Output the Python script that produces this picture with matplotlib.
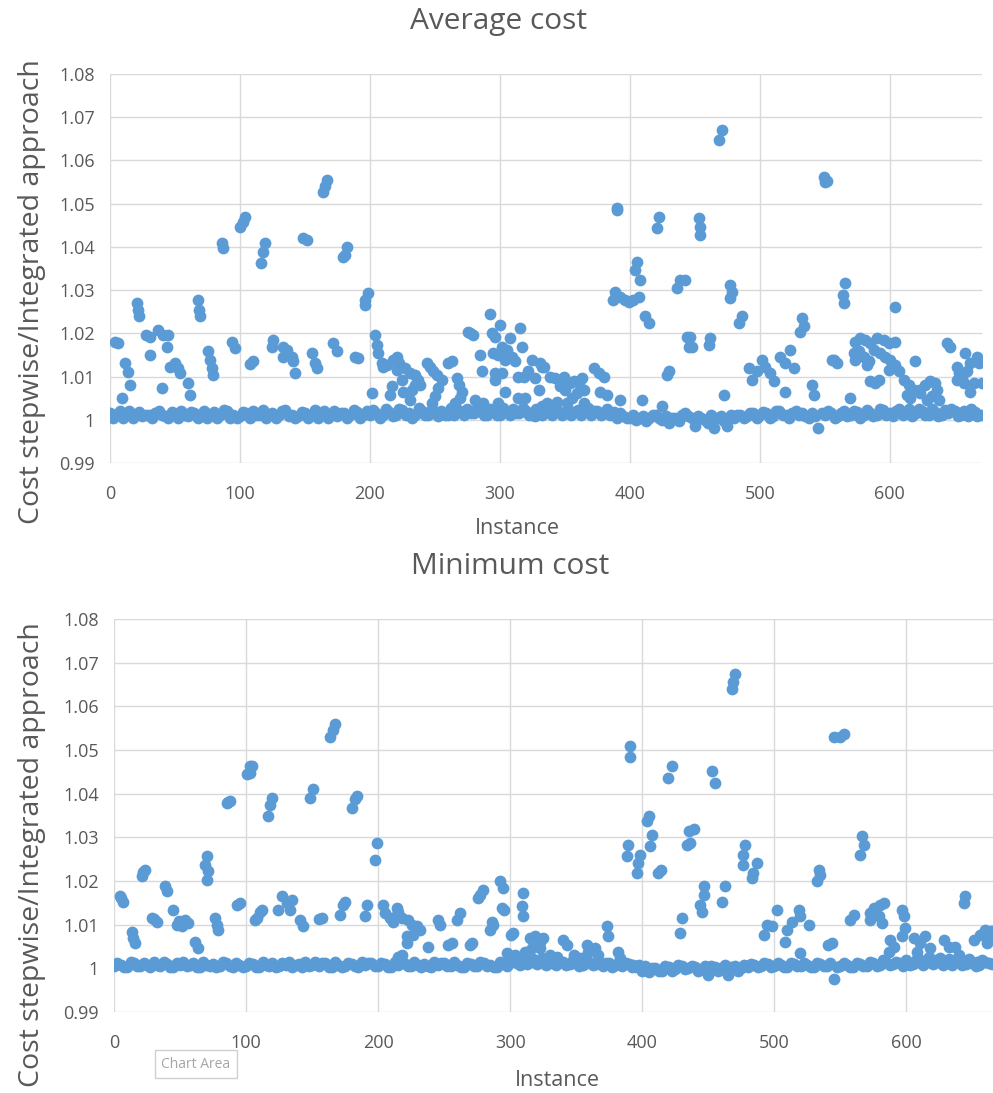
import numpy as np
import matplotlib
matplotlib.use("Agg")
import matplotlib.pyplot as plt

plt.rcParams['font.family'] = ['Open Sans', 'DejaVu Sans']

# instances sitting on the ~1.000 band (one every 5 instances)
avg_base_y = [
    1.0015, 1.001, 1.0005, 1.002, 1.001, 1.0008, 1.0012, 1.0015, 1.001, 1.0005,
    1.0012, 1.002, 1.0008, 1.0015, 1.001, 1.0005, 1.0018, 1.001, 1.002, 1.0012,
    1.0008, 1.0015, 1.002, 1.001, 1.0005, 1.0015, 1.001, 1.0022, 1.0012, 1.0008,
    1.0015, 1.001, 1.0005, 1.002, 1.0012, 1.0008, 1.0015, 1.001, 1.0018, 1.0012,
    1.001, 1.0015, 1.0012, 1.0018, 1.001, 1.0022, 1.0015, 1.0012, 1.002, 1.001,
    1.0015, 1.002, 1.0012, 1.001, 1.0018, 1.0025, 1.0015, 1.002, 1.001, 1.0022,
    1.0012, 1.0018, 1.0025, 1.0015, 1.002, 1.001, 1.0022, 1.0015, 1.0012, 1.002,
    1.0015, 1.001, 1.0022, 1.0018, 1.0012, 1.002, 1.0015, 1.001, 1.0005, 1.0008,
    1.0005, 1.0, 1.0008, 1.0005, 1.001, 1.0, 0.9992, 1.0005, 1.001, 1.0008,
    0.9985, 1.0005, 0.9992, 0.998, 1.0008, 0.9985, 1.0005, 1.001, 1.0008, 1.0015,
    1.001, 1.0015, 1.0008, 1.002, 1.001, 1.0015, 1.001, 1.0008, 1.0015, 0.998,
    1.001, 1.0015, 1.0008, 1.002, 1.001, 1.0018, 1.0012, 1.0015, 1.001, 1.0022,
    1.0015, 1.002, 1.001, 1.0025, 1.0015, 1.002, 1.0012, 1.0018, 1.001, 1.0015,
    1.002, 1.0012, 1.0008, 1.0015, 1.001,
]
avg_base_x = np.arange(len(avg_base_y)) * 5
# second set of band instances, offset between the first ones
avg_base2_y = [
    1.0005, 1.002, 1.001, 1.0003, 1.0018, 1.0012, 1.0003, 1.002, 1.0008, 1.0018,
    1.0003, 1.001, 1.0018, 1.0005, 1.002, 1.0012, 1.0003, 1.0022, 1.0005, 1.0003,
    1.0018, 1.0005, 1.001, 1.0022, 1.0012, 1.0003, 1.002, 1.0008, 1.0003, 1.0018,
    1.0005, 1.0022, 1.0012, 1.0005, 1.002, 1.0015, 1.0003, 1.0022, 1.0005, 1.002,
    1.0022, 1.0005, 1.0025, 1.0008, 1.0025, 1.0012, 1.0005, 1.0028, 1.001, 1.0025,
    1.0008, 1.0012, 1.0028, 1.0022, 1.001, 1.0015, 1.0028, 1.001, 1.0025, 1.0012,
    1.0028, 1.001, 1.0015, 1.0028, 1.001, 1.0025, 1.0012, 1.0028, 1.0022, 1.001,
    1.0025, 1.0018, 1.001, 1.0028, 1.002, 1.001, 1.0025, 1.0018, 1.0015, 1.0003,
    1.001, 1.0005, 0.9998, 1.0012, 1.0003, 1.0008, 1.0003, 0.9998, 1.0015, 1.0003,
    1.0008, 1.0, 1.001, 1.0005, 0.9998, 1.001, 1.0012, 1.0003, 1.0015, 1.0005,
    1.0018, 1.0005, 1.002, 1.0012, 1.0003, 1.002, 1.0015, 1.0003, 1.0008, 1.0015,
    1.002, 1.0005, 1.0015, 1.0008, 1.002, 1.0005, 1.0022, 1.0008, 1.0025, 1.0012,
    1.0008, 1.0025, 1.0015, 1.0008, 1.0025, 1.001, 1.0025, 1.0008, 1.0022, 1.0025,
    1.0008, 1.002, 1.0025, 1.0008,
]
avg_base2_x = np.arange(len(avg_base2_y)) * 5 + 2.5

# instances above the band, average cost
avg_x = [
    4, 6, 11.5, 14, 15.4, 9, 20.5, 21.5, 22.6, 28, 30.8, 30.8, 37, 41, 45, 43.6, 39.8,
    46, 50, 52.6, 54, 60.3, 61.6, 68, 68.7, 69.3, 75.7, 77, 78.2, 79.5, 86, 87.2, 93.7, 96.2,
    100, 102, 104, 107.8, 110.3, 116.2, 117.5, 119.3, 124.4, 125.7, 133.4, 136, 133.4, 139.9,
    141.1, 142.4, 148.8, 151.4, 155.3, 157.8, 159.1, 164.2, 165.5, 166.8, 171.9, 174.5,
    179.6, 181, 182.2, 188.6, 191.1, 196.3, 196.3, 198.8, 201.5, 204, 205.3, 206.5, 209.2, 210.4,
    213, 215.6, 216.9, 218, 220.7, 222, 220.7, 224.5, 225.8, 227, 231, 232.3, 231, 234.8, 234.8,
    237.3, 238.6, 243.8, 246.3, 248.9, 251.5, 255.3, 252.7, 250.2, 247.6, 260.4, 263,
    266.9, 268.2, 270.7, 269.5, 265.6, 275.8, 279.7, 277, 281, 287.4, 284.8, 286.1, 292.5,
    293.8, 296.4, 300.2, 294.5, 298.9, 301.5, 305.3, 307.9, 309.2, 311.8, 315.6, 316.9, 304.1,
    296.4, 296.4, 301.5, 304.1, 298.9, 306.6, 314.3, 318.2, 322, 324.6, 327.2, 329.8, 332.3,
    332.3, 327.2, 319.5, 314.3,
    331, 333.6, 338.7, 342.6, 346.4, 349, 346.4, 350.3, 354.1, 356.7, 360.6, 363.2, 364.5,
    359.3, 355.4, 351.6, 343.9, 341.3, 336.2, 364.5, 367.1, 372.1, 375.9, 379.8, 377.2, 382.4,
    390, 390.5, 388.8, 387.4, 392.6, 396.5, 399, 402.8, 406.7, 392.6, 405.4, 404.1, 408,
    411.8, 414.4, 409.3, 422.1, 420.8, 424.7, 429.8, 428.5, 438.8, 436.2, 442.6,
    443.9, 445.2, 446.5, 447.8, 452.9, 454.2, 454.2, 461.9, 460.6, 470.9, 468.3, 472.1,
    477.3, 478.6, 477.3, 486.3, 483.7, 491.4, 494, 497.8, 501.7, 504.2, 508.1, 510.6, 515.8,
    519.6, 523.5, 526.1, 519.6, 540.2, 541.5, 532.4, 533.7, 531.2, 549.1, 550.4, 552,
    555.6, 556.8, 559.4, 565.8, 564.2, 564.9, 569.7,
    573.5, 577.4, 581.3, 585.1, 590.3, 595.4, 599.2, 604.3, 572.2, 576.1, 580, 584, 587.6,
    592.8, 596.6, 600.5, 573.5, 582.7, 604.3, 585, 588.9, 591.5, 599.2, 604.3, 606.9,
    610.7, 614.5, 619.7, 622.3, 618.4, 623.6, 627.4, 631.3, 635.2, 636.5, 632.6, 628.7, 637.8,
    615.9, 613.3, 644.1, 646.6, 651.8, 653, 651.8, 655.6, 658.2, 659.5, 662.1, 664.7, 667.3,
    668.5, 671, 662.1, 656.9, 665.9,
]
avg_y = [
    1.0181, 1.0177, 1.0131, 1.011, 1.0081, 1.005, 1.027, 1.0255, 1.0239, 1.0196, 1.0192, 1.015,
    1.0207, 1.0196, 1.0196, 1.0169, 1.0073,
    1.0123, 1.0131, 1.0119, 1.0108, 1.0085, 1.0058, 1.0277, 1.0254, 1.0239, 1.016, 1.0139,
    1.012, 1.0104, 1.0408, 1.0397, 1.0181, 1.0166,
    1.0446, 1.0458, 1.047, 1.013, 1.0135, 1.0362, 1.0389, 1.0408, 1.0169, 1.0185, 1.0169,
    1.0162, 1.0146, 1.0146,
    1.0135, 1.0108, 1.042, 1.0416, 1.0154, 1.0131, 1.0119, 1.0527, 1.054, 1.0554, 1.0177, 1.0158,
    1.0377, 1.0381, 1.04, 1.0146, 1.0142, 1.0266, 1.0277, 1.0293, 1.0062, 1.0196, 1.0173,
    1.0154, 1.0131, 1.0123,
    1.0127, 1.0058, 1.0077, 1.0139, 1.0146, 1.0131, 1.0115, 1.0092, 1.0065, 1.0119, 1.0108,
    1.0069, 1.0046, 1.0104, 1.0081,
    1.0092, 1.0081, 1.0131, 1.0123, 1.0112, 1.0104, 1.0092, 1.0073, 1.0054, 1.0038, 1.0131, 1.0135,
    1.0096, 1.0081, 1.0065, 1.005, 1.0038, 1.0204, 1.0196, 1.02, 1.0045, 1.0038, 1.015, 1.0112,
    1.0245,
    1.02, 1.0192, 1.0219, 1.0154, 1.015, 1.0169, 1.0162, 1.0189, 1.0146, 1.0135, 1.0212,
    1.0169, 1.0139,
    1.0108, 1.0092, 1.0108, 1.0065, 1.0038, 1.0015, 1.01, 1.01, 1.0112, 1.0139, 1.0096, 1.0069,
    1.0123,
    1.0031, 1.0008, 1.005, 1.005,
    1.0131, 1.0123, 1.01, 1.0096, 1.0092, 1.01, 1.0077, 1.0069, 1.0085, 1.0089, 1.0085, 1.0096,
    1.0069,
    1.0062, 1.005, 1.0038, 1.0042, 1.0031, 1.0038, 1.0038, 1.0023, 1.0119, 1.0108, 1.01,
    1.0065, 1.0058,
    1.049, 1.0485, 1.0296, 1.0277, 1.0285, 1.0277, 1.0273, 1.0277, 1.0285, 1.0045, 1.0364,
    1.0346, 1.0323,
    1.0239, 1.0223, 1.0045, 1.047, 1.0443, 1.0031, 1.0112, 1.0104, 1.0323, 1.0304, 1.0323,
    1.0192, 1.0169, 1.0192, 1.0169, 1.0466, 1.0446, 1.0427, 1.0189, 1.0173, 1.067, 1.0647,
    1.0058,
    1.0312, 1.0296, 1.0281, 1.0239, 1.0223, 1.0119, 1.0092, 1.0112, 1.0139, 1.0123, 1.0108,
    1.0089, 1.0146,
    1.0131, 1.0162, 1.0119, 1.0065, 1.0081, 1.0058, 1.0235, 1.0216, 1.0204, 1.0562, 1.055,
    1.0553,
    1.0139, 1.0139, 1.0131, 1.0316, 1.0289, 1.027, 1.005,
    1.0181, 1.0189, 1.0185, 1.0177, 1.0189, 1.0185, 1.0177, 1.0181, 1.0154, 1.0158, 1.0146,
    1.0135, 1.0162,
    1.0154, 1.0146, 1.0139, 1.0139, 1.0127, 1.0261, 1.0089, 1.0085, 1.0092, 1.0115, 1.0127,
    1.0112,
    1.0092, 1.0081, 1.0135, 1.0069, 1.0069, 1.0062, 1.0081, 1.0089, 1.0085, 1.0069, 1.0054,
    1.0046, 1.0046,
    1.005, 1.0058, 1.0177, 1.0169, 1.0123, 1.0108, 1.0092, 1.0096, 1.0154, 1.0112, 1.0131,
    1.0085, 1.0146,
    1.0131, 1.0085, 1.0065, 1.0085, 1.0019,
]

min_base_y = [
    1.0005, 1.0008, 1.0003, 1.0012, 1.0005, 1.0008, 1.0015, 1.0005, 1.001, 1.0003,
    1.0008, 1.0005, 1.0012, 1.0003, 1.0008, 1.001, 1.0005, 1.0012, 1.0003, 1.0008,
    1.0005, 1.001, 1.0003, 1.0008, 1.0012, 1.0005, 1.0008, 1.0003, 1.001, 1.0015,
    1.0008, 1.0005, 1.0012, 1.0003, 1.0008, 1.0005, 1.001, 1.0003, 1.0008, 1.0012,
    1.0005, 1.001, 1.0003, 1.0008, 1.0012, 1.0005, 1.0008, 1.001, 1.0003, 1.0008,
    1.0012, 1.0005, 1.0008, 1.0003, 1.001, 1.0005, 1.0012, 1.0008, 1.0003, 1.001,
    1.0015, 1.0012, 1.002, 1.0015, 1.001, 1.0018, 1.0012, 1.0008, 1.0015, 1.001,
    1.0012, 1.0008, 1.0015, 1.001, 1.0005, 1.0012, 1.0008, 1.0005, 1.001, 1.0003,
    0.9995, 0.9992, 1.0, 0.9995, 1.0003, 0.9998, 1.0005, 1.0, 1.0003, 0.9998,
    0.9985, 1.0003, 1.0, 0.9985, 1.0005, 1.0, 1.0003, 1.0008, 1.0005, 1.001,
    1.0005, 1.0008, 1.0003, 1.001, 1.0005, 1.0008, 1.0003, 1.001, 1.0005, 0.9975,
    1.0005, 1.0008, 1.0003, 1.001, 1.0005, 1.0012, 1.0008, 1.0015, 1.001, 1.0012,
    1.0018, 1.001, 1.0022, 1.0015, 1.001, 1.002, 1.0012, 1.0008, 1.0015, 1.001,
    1.0012, 1.0008, 1.0015, 1.001,
]
min_base_x = np.arange(len(min_base_y)) * 5
min_base2_y = [
    1.0012, 1.0003, 1.0015, 1.0005, 1.0012, 1.0003, 1.0008, 1.0015, 1.0003, 1.0012,
    1.0015, 1.0008, 1.0003, 1.0015, 1.0005, 1.0003, 1.0015, 1.0005, 1.0012, 1.0003,
    1.0012, 1.0003, 1.0015, 1.0005, 1.0003, 1.0012, 1.0015, 1.0008, 1.0003, 1.0005,
    1.0015, 1.0012, 1.0003, 1.0015, 1.0003, 1.0012, 1.0005, 1.0015, 1.0012, 1.0005,
    1.0012, 1.0003, 1.0015, 1.0012, 1.0005, 1.0015, 1.0003, 1.0005, 1.0015, 1.0012,
    1.0005, 1.0015, 1.0003, 1.0012, 1.0005, 1.0015, 1.0005, 1.0003, 1.0015, 1.0005,
    1.0022, 1.0008, 1.001, 1.0022, 1.0018, 1.0008, 1.002, 1.0015, 1.0008, 1.002,
    1.0005, 1.0018, 1.0008, 1.0015, 1.0012, 1.0003, 1.0015, 1.0012, 1.0003, 1.0008,
    1.0005, 1.0, 0.9995, 1.0005, 0.9995, 1.0008, 0.9998, 1.0005, 0.9995, 1.0005,
    1.0005, 0.9995, 1.0008, 1.0003, 0.9995, 1.0008, 1.001, 1.0003, 1.0012, 1.0003,
    1.0012, 1.0003, 1.0012, 1.0005, 1.0012, 1.0003, 1.0012, 1.0005, 1.0012, 1.0003,
    1.0012, 1.0003, 1.0012, 1.0005, 1.0015, 1.0005, 1.0018, 1.0008, 1.0015, 1.0005,
    1.0008, 1.002, 1.0008, 1.0025, 1.0018, 1.0008, 1.0022, 1.0018, 1.0008, 1.0022,
    1.0005, 1.002, 1.0012,
]
min_base2_x = np.arange(len(min_base2_y)) * 5 + 2.5

# instances above the band, minimum cost
min_x = [
    4.5, 7, 5.5, 13.4, 14.6, 15.9, 21, 23.5, 22.2, 28.6, 32.3, 30.5, 38.6, 39.9,
    44.9, 47.5, 53.8, 56.3, 51.3, 49, 61.4, 63.9, 70.2, 68.9, 71.4, 70.2, 76.5, 79, 77.7,
    85.4, 87.9, 86.6, 93, 95.5, 100.5, 103, 104.3, 103, 106.8, 108.1, 110.6, 111.9,
    119.5, 118.2, 116.9, 124.5, 127, 130.8, 134.6, 133.3, 140.9, 143.4, 148.5, 151,
    157.3, 155, 163.6, 167.4, 165.5, 171.2, 173.7, 175, 180.1, 182.6, 183.8, 190.2, 191.4,
    197.7, 199, 205.3, 209.1, 211.6, 214.2, 204.1, 215.4, 215.4, 218, 212.9,
    223, 225.5, 229.3, 231.8, 226.7, 221.7, 222, 218, 238.1, 245.7, 247, 253.3, 255.8,
    262.1, 259.6, 269.7, 271, 277.3, 279.8, 276, 286.1, 284.8, 287.4, 292.4, 294.9,
    293.7, 295, 301, 302.5, 297.5, 303.8, 310.1, 308.9, 310.1,
    315.2, 318.9, 322.7, 316.4, 311.4, 323.9, 325.2, 322.7, 330.3, 335.4, 340.4, 342.9,
    348, 353, 358.1, 359.3, 364.4, 366.9, 355.5, 373.3, 374.5, 382, 383.3, 393.4,
    390.9, 390.9, 389.6, 388.4, 398.4, 397.2, 395.9, 404.8, 403.6, 407.3, 406.1,
    414.6, 412.3, 422.5, 419.9, 430, 428.8, 435.1, 433.8, 438.9, 436.4,
    446.5, 446.5, 443.9, 445.2, 452.8, 455.3, 462.9, 460.4, 470.5, 467.9, 469,
    478, 476.3, 476.3, 486.9, 484.3, 483,
    491.9, 494.5, 498.3, 502, 509.6, 508.3, 513.4, 518.4, 519.7, 526, 519.7,
    533.6, 534.8, 532.3, 541.1, 543.7, 545, 550, 552.5, 557.6, 560.1,
    566.4, 567.7, 565.2, 572.7, 575.3, 580.3, 582.8, 579.1, 581.6, 572.7,
    596.7, 598, 599.2, 596.7, 587.9, 590.4, 586.6,
    605.5, 610.6, 614.3, 608, 618.2, 628.3, 632.1, 637.1, 639.6, 625.8, 613.1,
    644.7, 643.4, 651, 656.1, 659.8, 662.3, 661.1, 653.5, 664,
]
min_y = [
    1.0165, 1.0153, 1.016, 1.0084, 1.0069, 1.0057, 1.0211, 1.0226, 1.022, 1.0115, 1.0107,
    1.0112, 1.0188, 1.0176,
    1.0134, 1.01, 1.0111, 1.0103, 1.0096, 1.0108, 1.0061, 1.0046, 1.0257, 1.0237, 1.0222,
    1.0203, 1.0115, 1.0088, 1.01,
    1.0379, 1.0383, 1.038, 1.0146, 1.0149, 1.0444, 1.0463, 1.0463, 1.0448, 1.0111, 1.0115,
    1.013, 1.0134,
    1.0391, 1.0375, 1.0348, 1.0134, 1.0165, 1.0149, 1.0157, 1.0134, 1.0111, 1.0096, 1.0391,
    1.041,
    1.0115, 1.0112, 1.0529, 1.0559, 1.0545, 1.0122, 1.0146, 1.0153, 1.0368, 1.0387, 1.0394,
    1.0119, 1.0146,
    1.0249, 1.0287, 1.0126, 1.0115, 1.0107, 1.0138, 1.0146, 1.0027, 1.013, 1.0115, 1.0118,
    1.0111, 1.01, 1.0096, 1.0088, 1.0077, 1.0073, 1.0057, 1.0031, 1.005, 1.0111, 1.01,
    1.0054, 1.0057,
    1.0126, 1.0111, 1.0054, 1.0057, 1.0169, 1.018, 1.0161, 1.0107, 1.0088, 1.01, 1.0199,
    1.0184,
    1.0138, 1.0134, 1.0077, 1.008, 1.0034, 1.0031, 1.0172, 1.0142, 1.0119,
    1.0069, 1.0073, 1.0061, 1.0046, 1.0038, 1.0023, 1.0069, 1.0046, 1.0031, 1.0027, 1.0065,
    1.0054,
    1.0031, 1.0023, 1.0054, 1.0038, 1.0046, 1.0031, 1.0023, 1.0096, 1.0073, 1.0038, 1.0023,
    1.0008,
    1.0509, 1.0483, 1.0283, 1.0257, 1.026, 1.0241, 1.0218, 1.0348, 1.0337, 1.0306, 1.028,
    1.0226, 1.0218, 1.0463, 1.0437, 1.0115, 1.008, 1.0314, 1.0283, 1.0318, 1.0287,
    1.0188, 1.0169, 1.0146, 1.013, 1.0452, 1.0425, 1.0188, 1.0153, 1.0674, 1.064, 1.0655,
    1.0283, 1.026, 1.0237, 1.0241, 1.0218, 1.0207,
    1.0077, 1.01, 1.0096, 1.0134, 1.0088, 1.0061, 1.0107, 1.0134, 1.0119, 1.01, 1.0034,
    1.0226, 1.0214, 1.0199, 1.0054, 1.0057, 1.0529, 1.0529, 1.0536, 1.0111, 1.0122,
    1.0303, 1.0283, 1.026, 1.0126, 1.0138, 1.0146, 1.0149, 1.0119, 1.0103, 1.0111,
    1.0134, 1.0119, 1.0092, 1.0073, 1.0065, 1.005, 1.0038,
    1.0069, 1.0057, 1.0073, 1.0038, 1.0046, 1.0065, 1.005, 1.005, 1.0031, 1.0023, 1.0015,
    1.0165, 1.0149, 1.0065, 1.0077, 1.0088, 1.0073, 1.0057, 1.0015, 1.0085,
]

yticks = [0.99, 1, 1.01, 1.02, 1.03, 1.04, 1.05, 1.06, 1.07, 1.08]
ytick_labels = ['0.99', '1', '1.01', '1.02', '1.03', '1.04', '1.05', '1.06', '1.07', '1.08']
xticks = [0, 100, 200, 300, 400, 500, 600]

blue = '#5B9BD5'
grey = '#595959'
W, H = 993, 1093

fig = plt.figure(figsize=(W / 100, H / 100), dpi=100)
ax1 = fig.add_axes([110 / W, 1 - 463 / H, (982 - 110) / W, (463 - 74) / H])
ax2 = fig.add_axes([114 / W, 1 - 1012 / H, (1000 - 114) / W, (1012 - 619) / H])

panels = [
    (ax1, [avg_base_x, avg_base2_x, avg_x], [avg_base_y, avg_base2_y, avg_y]),
    (ax2, [min_base_x, min_base2_x, min_x], [min_base_y, min_base2_y, min_y]),
]
for ax, xs, ys in panels:
    for x, y in zip(xs, ys):
        ax.scatter(x, y, s=72, color=blue, linewidths=0, zorder=3)
    ax.set_xlim(0, 671)
    ax.set_ylim(0.99, 1.08)
    ax.set_xticks(xticks)
    ax.set_yticks(yticks)
    ax.set_yticklabels(ytick_labels)
    ax.grid(True, color='#D9D9D9', linewidth=1)
    ax.set_axisbelow(True)
    for s in ax.spines.values():
        s.set_visible(False)
    ax.tick_params(length=0, colors=grey, labelsize=13)
    ax.tick_params(axis='x', pad=16)
    ax.tick_params(axis='y', pad=11)

fig.text(499 / W, 1 - 22 / H, 'Average cost', ha='center', va='center', fontsize=21.5, color=grey)
fig.text(510 / W, 1 - 567 / H, 'Minimum cost', ha='center', va='center', fontsize=21.5, color=grey)
fig.text(517 / W, 1 - 528 / H, 'Instance', ha='center', va='center', fontsize=15.5, color=grey)
fig.text(557 / W, 1 - 1080 / H, 'Instance', ha='center', va='center', fontsize=15.5, color=grey)
fig.text(32 / W, 1 - 292 / H, 'Cost stepwise/Integrated approach', rotation=90,
         ha='center', va='center', fontsize=20.5, color=grey)
fig.text(32 / W, 1 - 855 / H, 'Cost stepwise/Integrated approach', rotation=90,
         ha='center', va='center', fontsize=20.5, color=grey)

# hover tooltip left in the screenshot
fig.text(196 / W, 1 - 1064 / H, 'Chart Area', ha='center', va='center', fontsize=10,
         color='#A6A6A6',
         bbox=dict(boxstyle='square,pad=0.45', facecolor='white', edgecolor='#D0D0D0'))

fig.savefig('out.png', dpi=100)
